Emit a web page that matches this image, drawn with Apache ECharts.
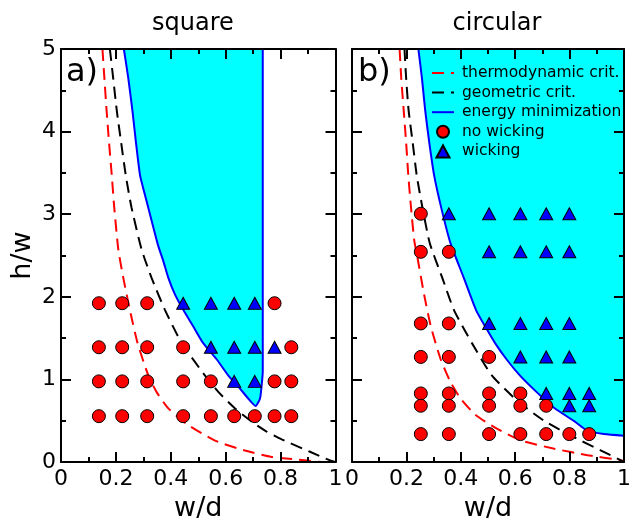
<!DOCTYPE html>
<html>
<head>
<meta charset="utf-8">
<script src="https://cdn.jsdelivr.net/npm/echarts@6/dist/echarts.min.js"></script>
<style>
  html, body { margin: 0; padding: 0; background: #fff; }
  #chart { width: 634px; height: 527px; }
</style>
</head>
<body>
<div id="chart"></div>
<script>
// axis ranges
const xMin = 0, xMax = 1, xStep = 0.2
const yMin = 0, yMax = 5, yStep = 1

// square pillars (panel a)
const sqThermoX = [0.151, 0.158, 0.166, 0.175, 0.185, 0.194, 0.209, 0.227, 0.251, 0.279, 0.318, 0.348, 0.391, 0.458, 0.561, 0.67, 0.767, 0.895, 0.95]
const sqThermoY = [5.0, 4.65, 4.26, 3.87, 3.47, 3.08, 2.57, 2.23, 1.84, 1.44, 1.05, 0.85, 0.65, 0.46, 0.26, 0.14, 0.063, 0.02, 0.0]
const sqGeomX = [0.178, 0.19, 0.203, 0.219, 0.236, 0.257, 0.294, 0.33, 0.379, 0.44, 0.524, 0.573, 0.634, 0.707, 0.749, 0.804, 0.907, 0.98, 1.0]
const sqGeomY = [5.0, 4.65, 4.26, 3.87, 3.47, 3.08, 2.57, 2.23, 1.84, 1.44, 1.05, 0.85, 0.65, 0.46, 0.37, 0.275, 0.125, 0.02, 0.0]
const sqEnergyX = [0.229, 0.245, 0.26, 0.273, 0.288, 0.303, 0.318, 0.354, 0.373, 0.391, 0.415, 0.446, 0.482, 0.518, 0.567, 0.609, 0.652, 0.682, 0.709, 0.725, 0.731, 0.735, 0.735]
const sqEnergyY = [5.0, 4.65, 4.26, 3.87, 3.47, 3.27, 3.08, 2.62, 2.43, 2.23, 2.03, 1.84, 1.64, 1.44, 1.245, 1.05, 0.89, 0.77, 0.68, 0.77, 0.93, 1.1, 5.0]
const sqNoWickX = [0.138, 0.223, 0.314, 0.778, 0.138, 0.223, 0.314, 0.445, 0.839, 0.138, 0.223, 0.314, 0.445, 0.546, 0.778, 0.839, 0.138, 0.223, 0.314, 0.445, 0.546, 0.631, 0.706, 0.778, 0.839]
const sqNoWickY = [1.923, 1.923, 1.923, 1.923, 1.39, 1.39, 1.39, 1.39, 1.39, 0.977, 0.977, 0.977, 0.977, 0.977, 0.977, 0.977, 0.556, 0.556, 0.556, 0.556, 0.556, 0.556, 0.556, 0.556, 0.556]
const sqWickX = [0.445, 0.546, 0.631, 0.706, 0.546, 0.631, 0.706, 0.778, 0.631, 0.706]
const sqWickY = [1.923, 1.923, 1.923, 1.923, 1.39, 1.39, 1.39, 1.39, 0.977, 0.977]

// circular pillars (panel b)
const ciThermoX = [0.175, 0.181, 0.19, 0.199, 0.207, 0.217, 0.229, 0.241, 0.265, 0.29, 0.326, 0.362, 0.399, 0.453, 0.526, 0.623, 0.744, 0.866, 0.986, 1.0]
const ciThermoY = [5.0, 4.65, 4.26, 3.87, 3.47, 3.08, 2.68, 2.47, 2.03, 1.64, 1.245, 0.97, 0.77, 0.575, 0.417, 0.26, 0.162, 0.083, 0.024, 0.015]
const ciGeomX = [0.193, 0.199, 0.208, 0.223, 0.238, 0.259, 0.286, 0.332, 0.375, 0.441, 0.514, 0.611, 0.708, 0.817, 0.914, 0.987, 1.0]
const ciGeomY = [5.0, 4.65, 4.26, 3.87, 3.47, 3.08, 2.65, 2.23, 1.84, 1.44, 1.05, 0.733, 0.496, 0.30, 0.142, 0.024, 0.0]
const ciEnergyX = [0.244, 0.257, 0.269, 0.284, 0.302, 0.328, 0.362, 0.411, 0.456, 0.49, 0.526, 0.568, 0.617, 0.678, 0.744, 0.817, 0.866, 0.926, 1.0]
const ciEnergyY = [5.0, 4.65, 4.26, 3.87, 3.47, 3.08, 2.65, 2.23, 1.84, 1.64, 1.44, 1.245, 1.05, 0.85, 0.654, 0.496, 0.378, 0.34, 0.32]
const ciNoWickX = [0.253, 0.253, 0.356, 0.253, 0.356, 0.253, 0.356, 0.504, 0.253, 0.356, 0.504, 0.619, 0.253, 0.356, 0.504, 0.619, 0.714, 0.253, 0.356, 0.504, 0.619, 0.714, 0.799, 0.872]
const ciNoWickY = [3.006, 2.545, 2.545, 1.678, 1.678, 1.273, 1.273, 1.273, 0.831, 0.831, 0.831, 0.831, 0.682, 0.682, 0.682, 0.682, 0.682, 0.339, 0.339, 0.339, 0.339, 0.339, 0.339, 0.339]
const ciWickX = [0.356, 0.504, 0.619, 0.714, 0.799, 0.504, 0.619, 0.714, 0.799, 0.504, 0.619, 0.714, 0.799, 0.619, 0.714, 0.799, 0.714, 0.799, 0.872, 0.799, 0.872]
const ciWickY = [3.006, 3.006, 3.006, 3.006, 3.006, 2.545, 2.545, 2.545, 2.545, 1.678, 1.678, 1.678, 1.678, 1.273, 1.273, 1.273, 0.831, 0.831, 0.831, 0.682, 0.682]

const FONT = 'DejaVu Sans'
const TRIANGLE = 'path://M0,12 L6.5,0 L13,12 Z'
const chart = echarts.init(document.getElementById('chart'))

function pairs(xs, ys) {
  return xs.map((x, i) => [x, ys[i]])
}

// x axes: bottom with labels, top mirror with ticks only
function xAxis(gi, top) {
  return {
    type: 'value', gridIndex: gi, position: top ? 'top' : 'bottom',
    min: xMin, max: xMax, interval: xStep, z: 10,
    name: top ? '' : 'w/d', nameLocation: 'middle', nameGap: 26,
    nameTextStyle: { fontSize: 27, fontFamily: FONT, color: '#000' },
    axisLine: { show: true, onZero: false, lineStyle: { color: '#000', width: 2 } },
    axisTick: { show: true, inside: true, length: 10, lineStyle: { color: '#000', width: 2 } },
    minorTick: { show: true, splitNumber: 2, length: 5, lineStyle: { color: '#000', width: 2 } },
    axisLabel: { show: !top, fontSize: 22, fontFamily: FONT, color: '#000', margin: 6, showMinLabel: true, showMaxLabel: true },
    splitLine: { show: false }
  }
}

function yAxis(gi, right, labels) {
  return {
    type: 'value', gridIndex: gi, position: right ? 'right' : 'left',
    min: yMin, max: yMax, interval: yStep, z: 10,
    name: labels ? 'h/w' : '', nameLocation: 'middle', nameGap: 25,
    nameTextStyle: { fontSize: 27, fontFamily: FONT, color: '#000' },
    axisLine: { show: true, onZero: false, lineStyle: { color: '#000', width: 2 } },
    axisTick: { show: true, inside: true, length: 10, lineStyle: { color: '#000', width: 2 } },
    minorTick: { show: true, splitNumber: 2, length: 5, lineStyle: { color: '#000', width: 2 } },
    axisLabel: { show: labels, fontSize: 22, fontFamily: FONT, color: '#000', margin: 5 },
    splitLine: { show: false }
  }
}

// cyan region bounded by the energy minimization curve
function region(gi, xs, ys) {
  const pts = pairs(xs, ys)
  if (gi === 1) pts.push([xMax, yMax])
  return {
    type: 'custom', xAxisIndex: gi * 2, yAxisIndex: gi * 2, z: 1, silent: true,
    data: pts,
    renderItem(params, api) {
      if (params.dataIndex !== 0) return
      return {
        type: 'polygon',
        shape: { points: pts.map(p => api.coord(p)) },
        style: { fill: '#00ffff' }
      }
    }
  }
}

function curve(gi, name, xs, ys, color, dashed) {
  return {
    type: 'line', name, xAxisIndex: gi * 2, yAxisIndex: gi * 2,
    data: pairs(xs, ys), symbol: 'none', showSymbol: false, smooth: 0.2,
    lineStyle: { color, width: 2, type: dashed ? [12, 7] : 'solid' },
    // opacity 0 keeps the legend icon a bare line
    itemStyle: { color, opacity: 0 }, z: 3, silent: true
  }
}

function points(gi, name, xs, ys, symbol, color) {
  return {
    type: 'scatter', name, xAxisIndex: gi * 2, yAxisIndex: gi * 2,
    data: pairs(xs, ys), symbol, symbolSize: symbol === 'circle' ? 13 : [13, 12],
    itemStyle: { color, borderColor: '#000', borderWidth: 1, opacity: 1 }, z: 4, silent: true
  }
}

const option = {
  backgroundColor: '#fff',
  animation: false,
  grid: [
    { left: 61, top: 49, width: 274.5, height: 423 },
    { left: 352, top: 49, width: 275, height: 423 }
  ],
  xAxis: [xAxis(0, false), xAxis(0, true), xAxis(1, false), xAxis(1, true)],
  yAxis: [yAxis(0, false, true), yAxis(0, true, false), yAxis(1, false, false), yAxis(1, true, false)],
  legend: {
    data: [
      'thermodynamic crit.', 'geometric crit.', 'energy minimization',
      { name: 'no wicking', icon: 'circle' },
      { name: 'wicking', icon: TRIANGLE }
    ],
    orient: 'vertical', left: 431, top: 65, padding: 0,
    itemWidth: 22, itemHeight: 12, itemGap: 3.6,
    selectedMode: false,
    lineStyle: { width: 2 },
    textStyle: { fontSize: 15.5, fontFamily: FONT, color: '#000', padding: [0, 0, 0, 3] }
  },
  graphic: [
    { type: 'text', x: 193, y: 24, style: { text: 'square', fontSize: 24, fontFamily: FONT, fill: '#000', align: 'center', verticalAlign: 'middle' } },
    { type: 'text', x: 497, y: 24, style: { text: 'circular', fontSize: 24, fontFamily: FONT, fill: '#000', align: 'center', verticalAlign: 'middle' } },
    { type: 'text', x: 66, y: 73, z: 20, style: { text: 'a)', fontSize: 32, fontFamily: FONT, fill: '#000', align: 'left', verticalAlign: 'middle' } },
    { type: 'text', x: 358, y: 73, z: 20, style: { text: 'b)', fontSize: 32, fontFamily: FONT, fill: '#000', align: 'left', verticalAlign: 'middle' } }
  ],
  series: [
    region(0, sqEnergyX, sqEnergyY),
    curve(0, 'thermodynamic crit.', sqThermoX, sqThermoY, '#ff0000', true),
    curve(0, 'geometric crit.', sqGeomX, sqGeomY, '#000000', true),
    curve(0, 'energy minimization', sqEnergyX, sqEnergyY, '#0000ff', false),
    points(0, 'no wicking', sqNoWickX, sqNoWickY, 'circle', '#ff0000'),
    points(0, 'wicking', sqWickX, sqWickY, 'triangle', '#0000ff'),
    region(1, ciEnergyX, ciEnergyY),
    curve(1, 'thermodynamic crit.', ciThermoX, ciThermoY, '#ff0000', true),
    curve(1, 'geometric crit.', ciGeomX, ciGeomY, '#000000', true),
    curve(1, 'energy minimization', ciEnergyX, ciEnergyY, '#0000ff', false),
    points(1, 'no wicking', ciNoWickX, ciNoWickY, 'circle', '#ff0000'),
    points(1, 'wicking', ciWickX, ciWickY, 'triangle', '#0000ff')
  ]
}

chart.setOption(option)
</script>
</body>
</html>
